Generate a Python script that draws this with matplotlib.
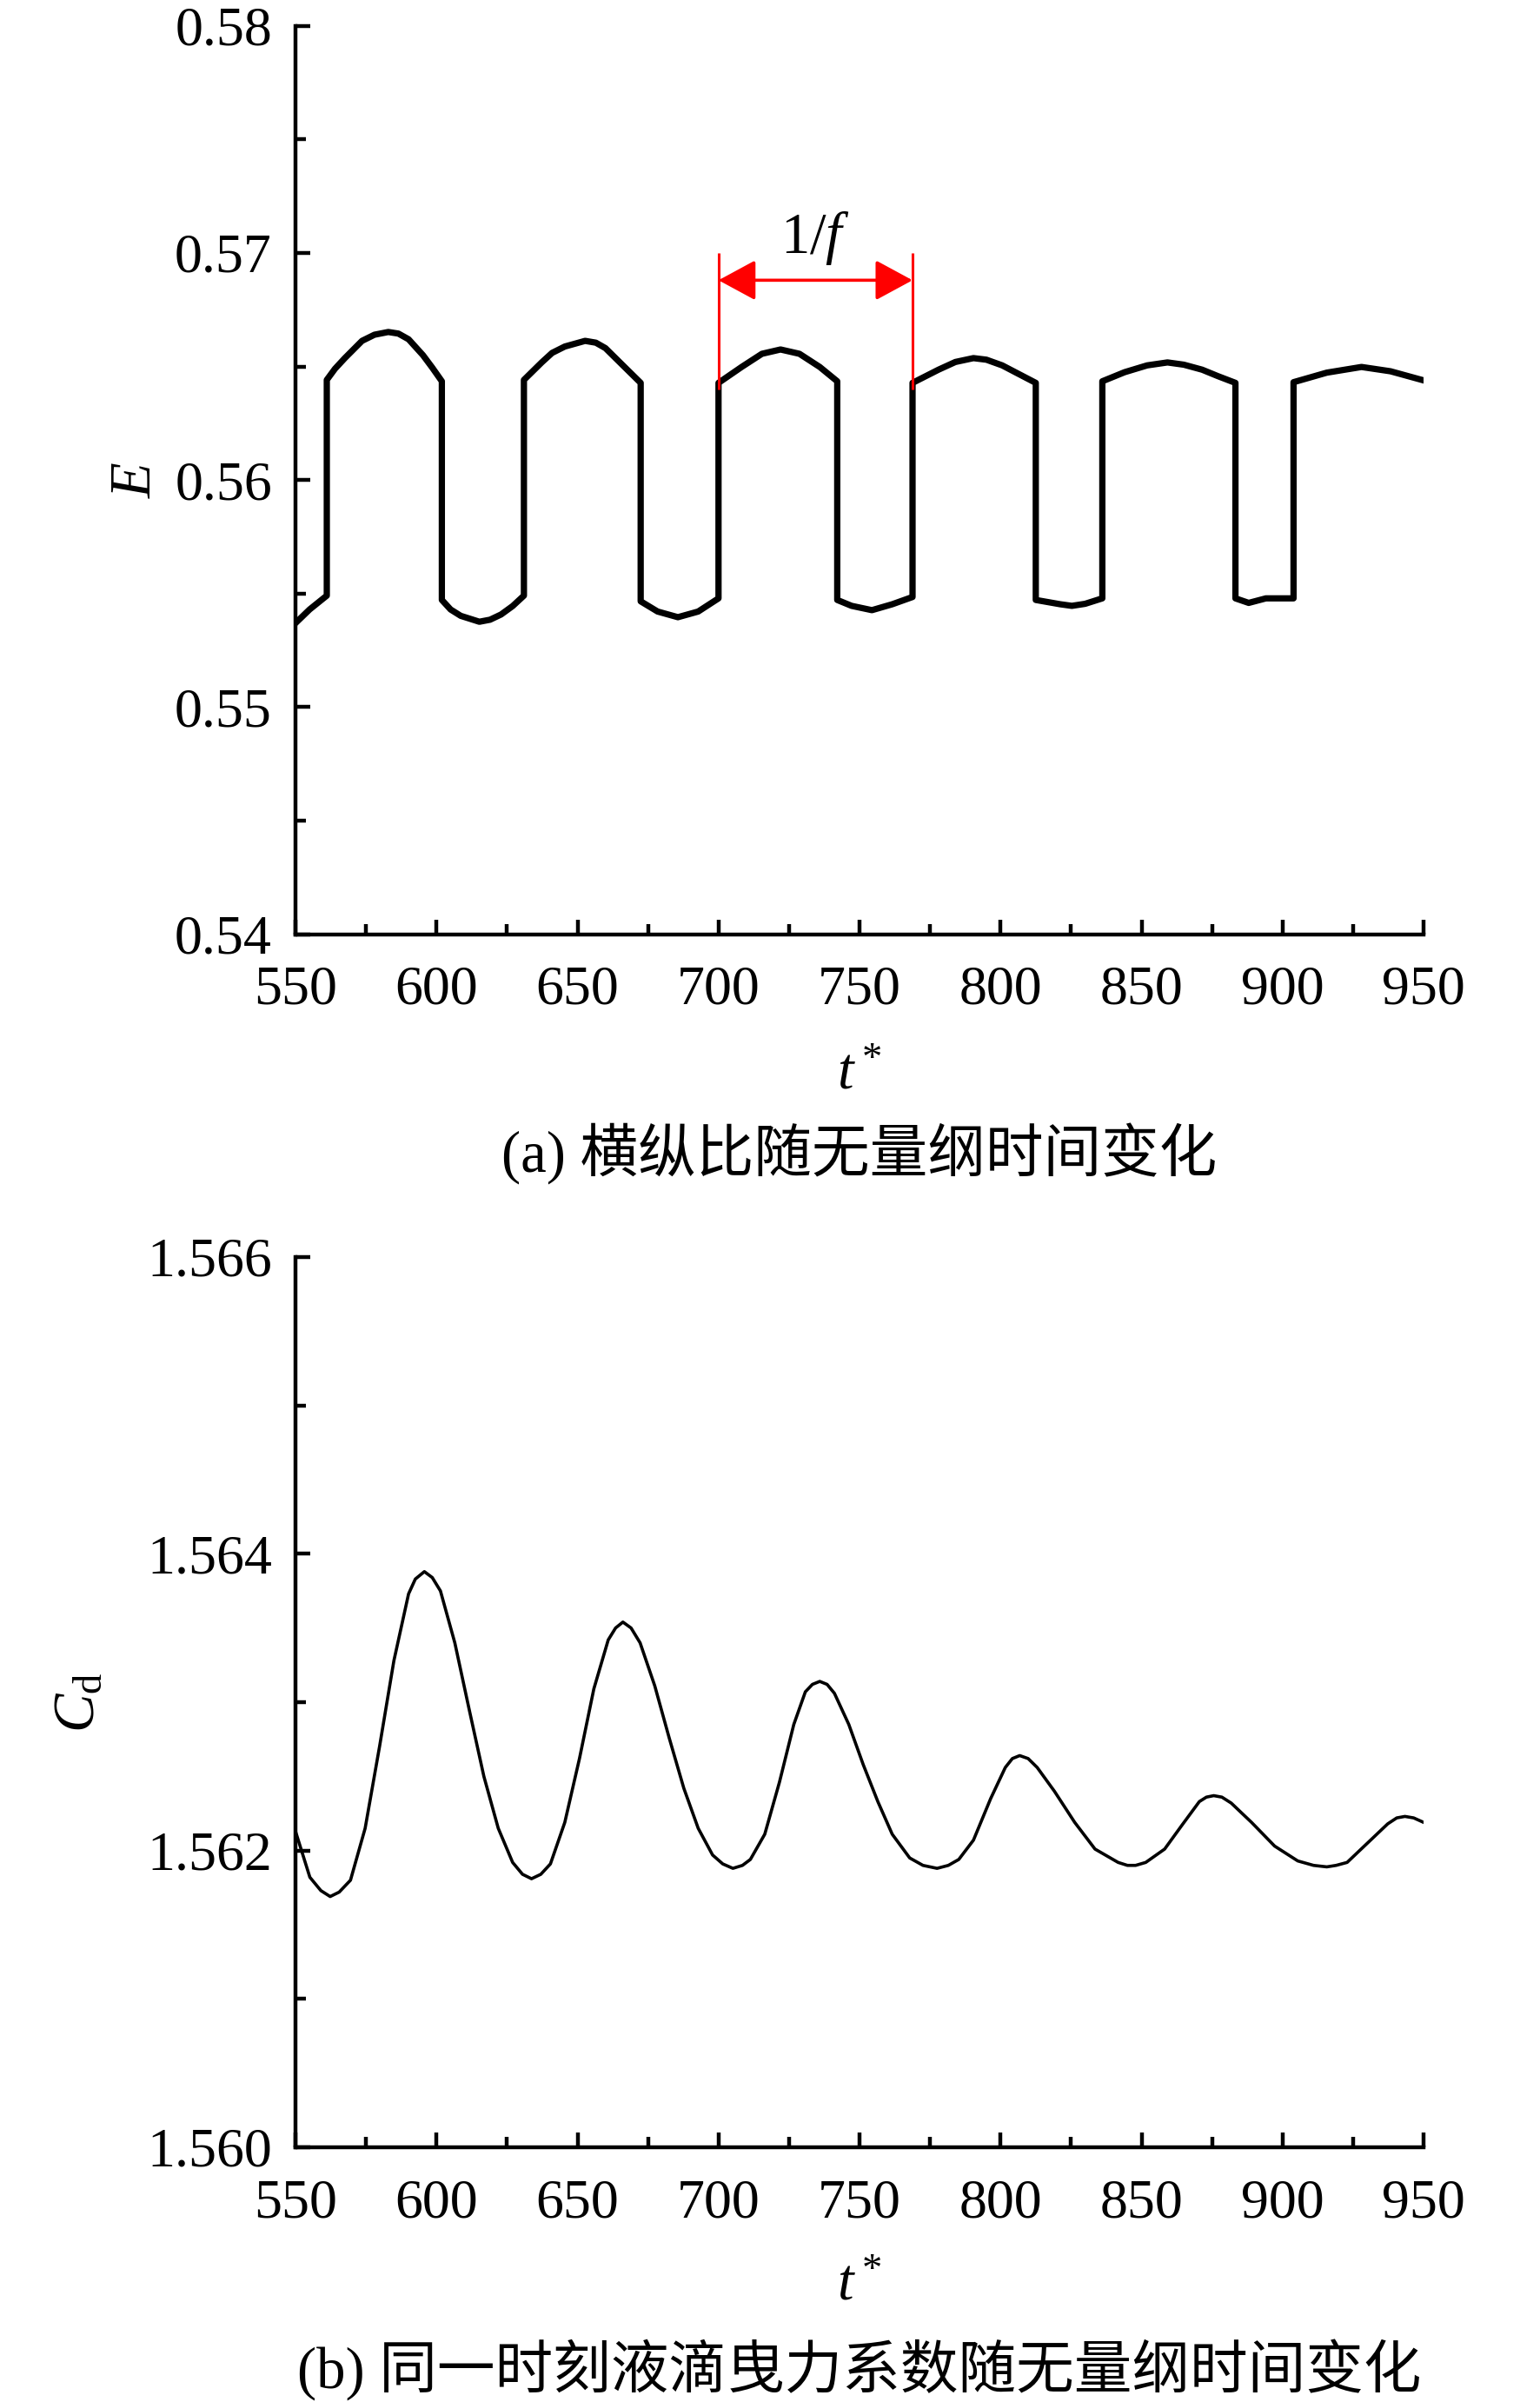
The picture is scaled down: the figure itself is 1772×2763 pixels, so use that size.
import matplotlib
matplotlib.use('Agg')
import matplotlib.pyplot as plt
from matplotlib.ticker import MultipleLocator, FormatStrFormatter

plt.rcParams['font.family'] = ['Liberation Serif', 'Noto Sans CJK SC']
plt.rcParams['mathtext.fontset'] = 'custom'
plt.rcParams['mathtext.rm'] = 'Liberation Serif'
plt.rcParams['mathtext.it'] = 'Liberation Serif:italic'

# (a) aspect ratio E vs t*
t_e = [550, 555, 561.1, 561.1, 564, 567.5, 573.6, 578, 582.9, 586.5, 590.1, 595.2, 598.5, 601.9,
       601.9, 605, 608.6, 615.2, 619, 622.9, 627, 631.0,
       631.0, 637.3, 641, 645.5, 652.7, 656.5, 659.9, 666.1, 672.4,
       672.4, 678.4, 685.6, 692.8, 700.0,
       700.0, 708.2, 715.4, 722.0, 728.7, 735.9, 742.1,
       742.1, 747.2, 754.4, 761.6, 768.8,
       768.8, 778.0, 784, 790.4, 795, 800.6, 806, 812.5,
       812.5, 821.2, 825.3, 830, 836.1,
       836.1, 844, 852, 859.2, 865, 871.5, 877, 883.3,
       883.3, 888.0, 894.1, 903.9,
       903.9, 915.7, 928.0, 938.3, 950]
e_val = [0.55370, 0.55430, 0.55491, 0.56441, 0.56490, 0.56537, 0.56613, 0.56640, 0.56652, 0.56645, 0.56620, 0.56550, 0.56495, 0.56435,
         0.55472, 0.55430, 0.55402, 0.55376, 0.55385, 0.55408, 0.55445, 0.55491,
         0.56441, 0.56518, 0.56560, 0.56588, 0.56613, 0.56605, 0.56581, 0.56505, 0.56428,
         0.55466, 0.55421, 0.55396, 0.55421, 0.55479,
         0.56428, 0.56498, 0.56556, 0.56575, 0.56556, 0.56498, 0.56435,
         0.55472, 0.55446, 0.55427, 0.55453, 0.55485,
         0.56428, 0.56486, 0.56520, 0.56537, 0.56530, 0.56505, 0.56470, 0.56428,
         0.55472, 0.55453, 0.55446, 0.55455, 0.55479,
         0.56435, 0.56475, 0.56505, 0.56518, 0.56508, 0.56486, 0.56458, 0.56428,
         0.55479, 0.55459, 0.55479, 0.55479,
         0.56431, 0.56473, 0.56498, 0.56479, 0.56439]

# (b) drag coefficient Cd vs t*
t_cd = [550, 555.1, 559, 562.3, 565.5, 569.5, 574.7, 579.8, 584.9, 590.1, 592.5, 595.7, 598.5, 601.4,
        606.5, 611.6, 616.8, 621.9, 627.0, 630.5, 633.7, 637, 640.4, 645.5, 650.7, 655.8, 660.9,
        663.5, 666.1, 669, 672.2, 677.4, 682.5, 687.7, 692.8, 697.9, 701.5, 705.1, 708.5, 711.3,
        716.4, 721.6, 726.7, 730.8, 733.3, 735.9, 738.5, 741.1, 746.2, 751.3, 756.5, 761.6, 767.8,
        772.5, 777.5, 781.5, 785.2, 790.4, 796.5, 801.7, 804.2, 806.8, 809.8, 813.0, 819.1, 826.3,
        833.5, 841.7, 845, 847.9, 851.5, 858.2, 864.3, 870.5, 873, 875.6, 878.5, 881.8, 889.0,
        897.2, 905.4, 911, 915.7, 919, 922.9, 930.1, 937.3, 940.5, 943.4, 946.5, 950]
cd_val = [1.56213, 1.56182, 1.56173, 1.56169, 1.56172, 1.56180, 1.56215, 1.56270, 1.56328, 1.56373, 1.56383, 1.56388, 1.56384, 1.56375,
          1.56340, 1.56295, 1.56250, 1.56215, 1.56192, 1.56184, 1.56181, 1.56184, 1.56191, 1.56219, 1.56262, 1.56309, 1.56342,
          1.56350, 1.56354, 1.56350, 1.56340, 1.56311, 1.56276, 1.56242, 1.56215, 1.56197, 1.56191, 1.56188, 1.56190, 1.56194,
          1.56211, 1.56246, 1.56285, 1.56307, 1.56312, 1.56314, 1.56312, 1.56306, 1.56285, 1.56258, 1.56233, 1.56211, 1.56195,
          1.56190, 1.56188, 1.56190, 1.56194, 1.56207, 1.56235, 1.56256, 1.56262, 1.56264, 1.56262, 1.56256, 1.56240, 1.56219,
          1.56201, 1.56192, 1.56190, 1.56190, 1.56192, 1.56201, 1.56217, 1.56233, 1.56236, 1.56237, 1.56236, 1.56232, 1.56219,
          1.56203, 1.56193, 1.56190, 1.56189, 1.56190, 1.56192, 1.56205, 1.56218, 1.56222, 1.56223, 1.56222, 1.56219]

# period marker 1/f
period_t = [700.0, 768.8]
period_line = (0.5640, 0.5700)
period_arrow_y = 0.5688

fig = plt.figure(figsize=(17.72, 27.63), dpi=100)
W, H = 1772, 2763
ax1 = fig.add_axes([340 / W, 1 - 1074.6 / H, 1298 / W, 1044.8 / H])
ax2 = fig.add_axes([340 / W, 1 - 2470 / H, 1298 / W, 1024 / H])

ax1.plot(t_e, e_val, color='black', lw=5.2)
ax2.plot(t_cd, cd_val, color='black', lw=2.6)

for ax in (ax1, ax2):
    ax.set_xlim(550, 950)
    ax.spines['top'].set_visible(False)
    ax.spines['right'].set_visible(False)
    for s in ('left', 'bottom'):
        ax.spines[s].set_linewidth(3.2)
    ax.xaxis.set_major_locator(MultipleLocator(50))
    ax.xaxis.set_minor_locator(MultipleLocator(25))
    ax.tick_params(which='both', direction='in', width=3.2, labelsize=46, top=False, right=False)
    ax.tick_params(which='major', length=12.2)
    ax.tick_params(which='minor', length=8.6)
    ax.tick_params(axis='x', pad=26)
    ax.tick_params(axis='y', pad=19.5)
    ax.set_xlabel('$t^*$', fontsize=48)
    ax.xaxis.set_label_coords(0.5, -0.125)

ax1.set_ylim(0.54, 0.58)
ax1.yaxis.set_major_locator(MultipleLocator(0.01))
ax1.yaxis.set_minor_locator(MultipleLocator(0.005))
ax1.yaxis.set_major_formatter(FormatStrFormatter('%.2f'))
ax1.set_ylabel('$E$', fontsize=48)
ax1.yaxis.set_label_coords(-0.118, 0.5)

ax2.set_ylim(1.560, 1.566)
ax2.yaxis.set_major_locator(MultipleLocator(0.002))
ax2.yaxis.set_minor_locator(MultipleLocator(0.001))
ax2.yaxis.set_major_formatter(FormatStrFormatter('%.3f'))
ax2.set_ylabel('$C_\\mathrm{d}$', fontsize=48)
ax2.yaxis.set_label_coords(-0.168, 0.5)

# 1/f marker
ax1.vlines(period_t, period_line[0], period_line[1], color='red', lw=2.2)
ax1.annotate('', xy=(period_t[1], period_arrow_y), xytext=(period_t[0], period_arrow_y),
             arrowprops=dict(arrowstyle='<|-|>,head_length=1.33,head_width=0.72',
                             color='red', lw=2.6, mutation_scale=20, shrinkA=0, shrinkB=0))
ax1.text(sum(period_t) / 2, 0.5700, '1/$f$', fontsize=48, ha='center', va='baseline')

cx = (340 + 1298 / 2) / W
fig.text(cx, 1 - 1327 / H, '(a) 横纵比随无量纲时间变化', fontsize=48, ha='center', va='center')
fig.text(cx, 1 - 2726 / H, '(b) 同一时刻液滴曳力系数随无量纲时间变化', fontsize=48, ha='center', va='center')

fig.savefig('out.png', dpi=100)
